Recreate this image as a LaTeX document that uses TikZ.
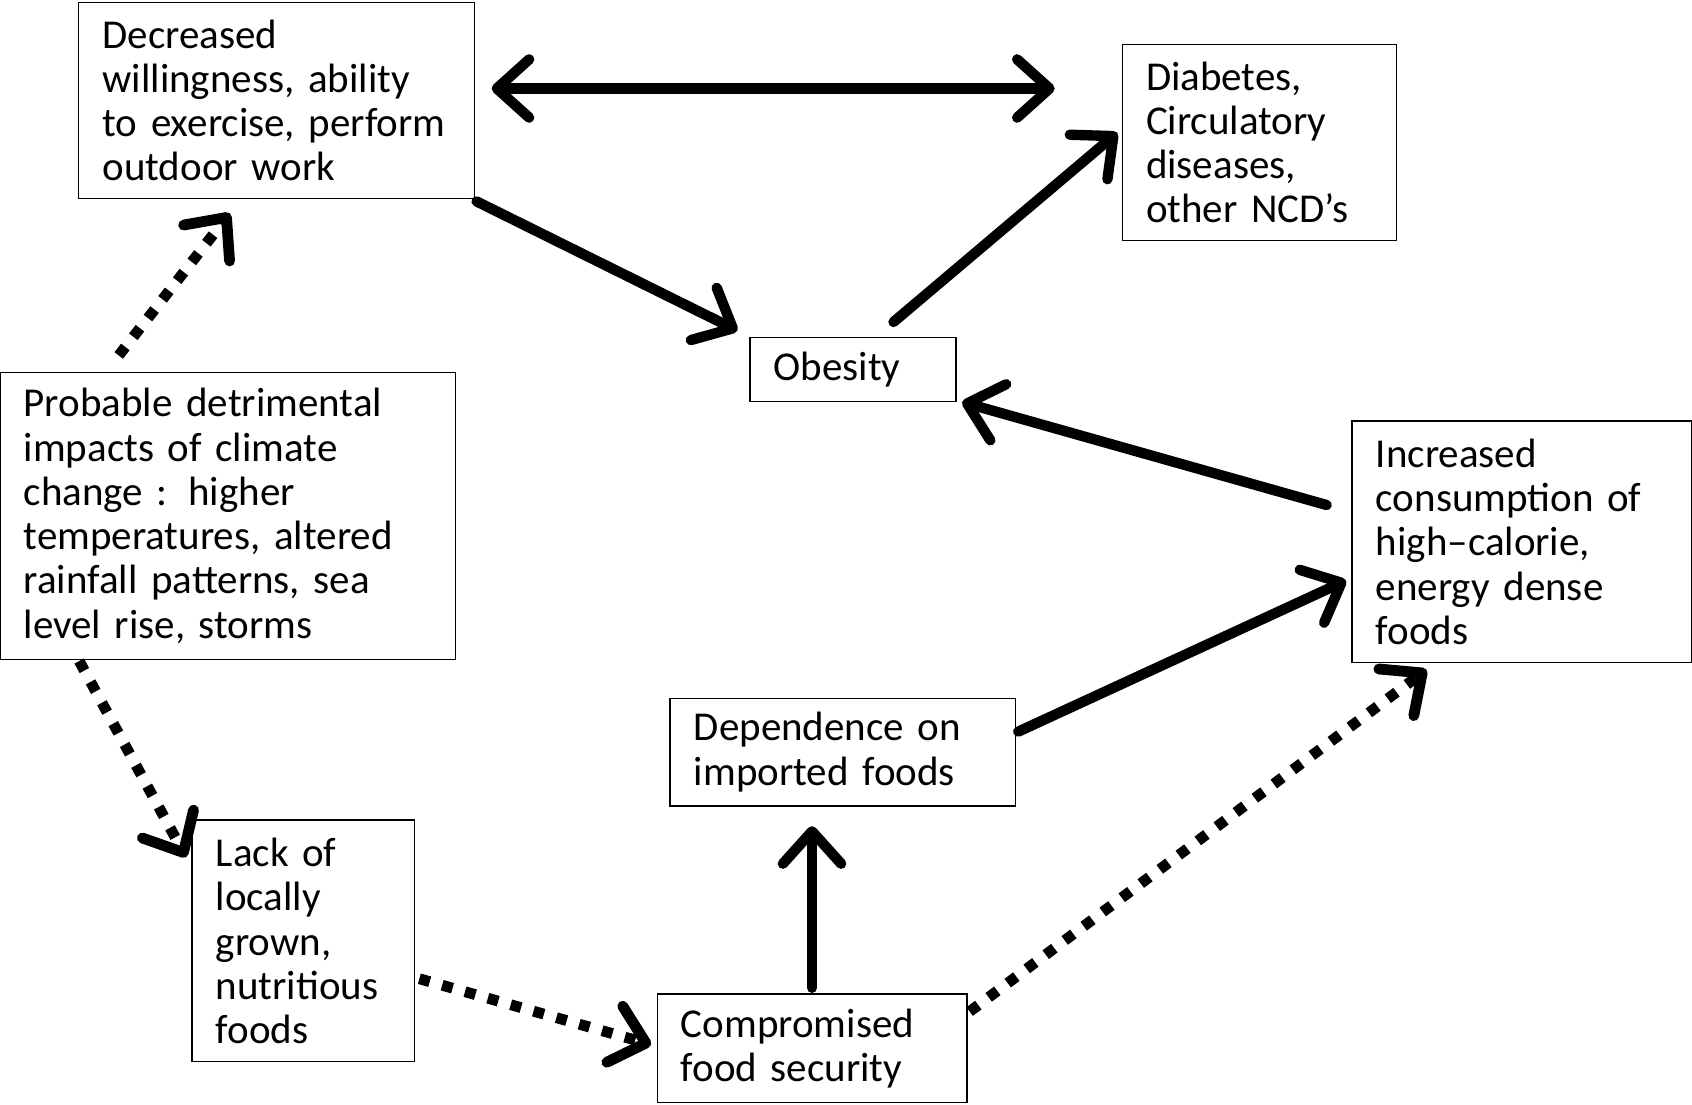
\documentclass[tikz,border=0pt]{standalone}
\usepackage{fontspec}
\setmainfont{Carlito}
\usepackage{tikz}
\usetikzlibrary{arrows.meta}
\usetikzlibrary{calc}

\tikzset{
  barb/.tip={Straight Barb[length=15pt, width=27pt, round]},
  factor/.style={draw, line width=0.6pt, inner xsep=11pt, inner ysep=0pt, align=left, font=\fontsize{19}{20.5}\selectfont},
  link/.style={line width=4.8pt, line cap=round, -barb},
  weaklink/.style={line width=5pt, dash pattern=on 5pt off 6pt, -barb},
}

\begin{document}
\begin{tikzpicture}[x=0.5pt, y=-0.5pt]
  \useasboundingbox (0, 0) rectangle (1568, 1024);

  \node [factor, text width=161.5pt, minimum height=91pt] (dec) at (256.5, 93) {Decreased\\willingness, ability\\to exercise, perform\\outdoor work};
  \node [factor, text width=105pt, minimum height=91pt] (diab) at (1167, 132) {Diabetes,\\Circulatory\\diseases,\\other NCD’s};
  \node [factor, text width=73.5pt, minimum height=29.5pt] (obes) at (790.5, 342.5) {Obesity};
  \node [factor, text width=189pt, minimum height=133pt] (prob) at (211, 478) {Probable detrimental\\impacts of climate\\change : higher\\temperatures, altered\\rainfall patterns, sea\\level rise, storms};
  \node [factor, text width=135.5pt, minimum height=112pt] (incr) at (1410.5, 502) {Increased\\consumption of\\high–calorie,\\energy dense\\foods};
  \node [factor, text width=138pt, minimum height=50pt] (dep) at (781, 697) {Dependence on\\imported foods};
  \node [factor, text width=81pt, minimum height=112pt] (lack) at (281, 872) {Lack of\\locally\\grown,\\nutritious\\foods};
  \node [factor, text width=121.5pt, minimum height=50.5pt] (comp) at (752.5, 971.5) {Compromised\\food security};

  \draw [link, barb-barb] ($(dec.east)+(15,-11)$) -- ($(diab.west)+(-62,-50)$);
  \draw [link] ($(dec.south east)+(1,2)$) -- ($(obes.north west)+(-11,-6)$);
  \draw [link] ($(obes.north)+(37.5,-14)$) -- ($(diab.west)+(-4,-9)$);
  \draw [link] ($(incr.west)+(-23,-34)$) -- ($(obes.south east)+(5,0)$);
  \draw [link] ($(dep.east)+(2,-19)$) -- ($(incr.west)+(-5,36)$);
  \draw [link] ($(comp.north)+(0,-5)$) -- ($(comp.north |- dep.south)+(0,18)$);

  \draw [weaklink] ($(prob.north)+(-101,-15)$) -- ($(dec.south)+(-43.5,13)$);
  \draw [weaklink] ($(prob.south west)+(74,1)$) -- ($(lack.north west)+(-5,35)$);
  \draw [weaklink] ($(lack.east)+(4,35)$) -- ($(comp.west)+(-5,-3.5)$);
  \draw [weaklink] ($(comp.north east)+(2,17)$) -- ($(incr.south)+(-88.5,6)$);

\end{tikzpicture}
\end{document}
